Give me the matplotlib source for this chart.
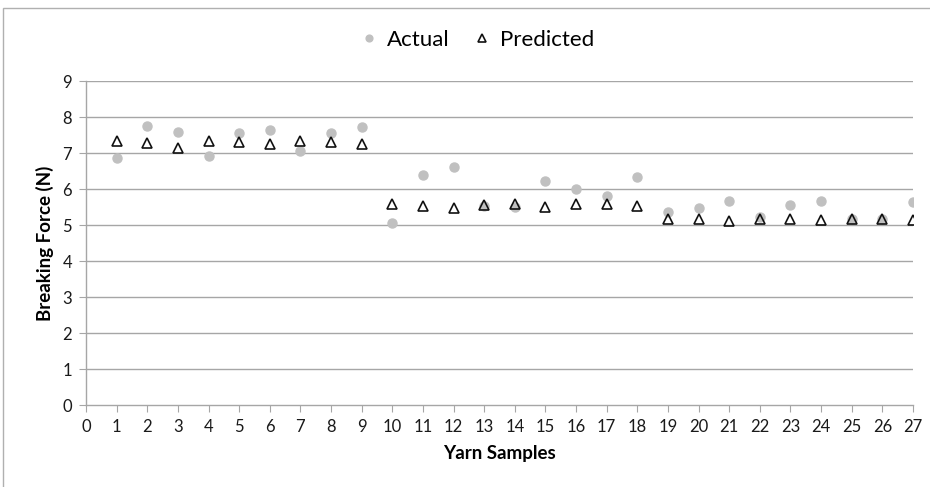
"""Breaking force of yarn samples: actual vs predicted"""

import matplotlib
matplotlib.use("Agg")
import matplotlib.pyplot as plt
from matplotlib.patches import Rectangle

samples = list(range(1, 28))

actual = [6.87, 7.75, 7.58, 6.92, 7.55, 7.65, 7.05, 7.55, 7.72,
          5.05, 6.38, 6.60, 5.52, 5.50, 6.22, 6.00, 5.80, 6.32,
          5.37, 5.48, 5.66, 5.22, 5.55, 5.68, 5.18, 5.18, 5.63]

predicted = [7.33, 7.27, 7.15, 7.33, 7.30, 7.24, 7.33, 7.30, 7.24,
             5.57, 5.54, 5.48, 5.56, 5.57, 5.51, 5.57, 5.57, 5.54,
             5.16, 5.17, 5.12, 5.17, 5.17, 5.14, 5.17, 5.17, 5.14]

x_ticks = list(range(0, 28))
y_ticks = list(range(0, 10))

plt.rcParams["font.family"] = ["Lato", "DejaVu Sans"]

fig = plt.figure(figsize=(9.30, 4.87), dpi=100)
ax = fig.add_axes([86 / 930, 1 - 405 / 487, (913 - 86) / 930, (405 - 81) / 487])

grid_color = "#a6a6a6"
for y in y_ticks[1:]:
    ax.axhline(y, color=grid_color, lw=1.0, zorder=0)

ax.plot(samples, actual, "o", color="#c0c0c0", ms=6.5, mec="#c0c0c0",
        label="Actual", zorder=2)
ax.plot(samples, predicted, "^", color="#111111", mfc="none", ms=7,
        mew=1.2, label="Predicted", zorder=3)

ax.set_xlim(0, 27)
ax.set_ylim(0, 9)
ax.set_xticks(x_ticks)
ax.set_yticks(y_ticks)
ax.tick_params(axis="both", direction="out", length=5, color=grid_color,
               labelsize=12, labelcolor="#1a1a1a", pad=5)

for side in ["top", "right"]:
    ax.spines[side].set_visible(False)
for side in ["left", "bottom"]:
    ax.spines[side].set_color(grid_color)
    ax.spines[side].set_linewidth(1.0)

ax.set_xlabel("Yarn Samples", fontsize=13.5, fontweight="bold", labelpad=7)
ax.set_ylabel("Breaking Force (N)", fontsize=13.5, fontweight="bold", labelpad=6)

fig.legend(*ax.get_legend_handles_labels(), loc="center",
           bbox_to_anchor=(476 / 930, 1 - 40 / 487), ncol=2, frameon=False,
           fontsize=16, handletextpad=0.3, columnspacing=1.0, markerscale=0.75,
           handlelength=1.0)

# chart area border (left and top edges)
fig.patches.append(Rectangle((3 / 930, -0.1), 1.1, 1.1 - 8 / 487,
                             transform=fig.transFigure, fill=False,
                             edgecolor="#b0b0b0", lw=1.0))

plt.savefig("out.png", dpi=100)
